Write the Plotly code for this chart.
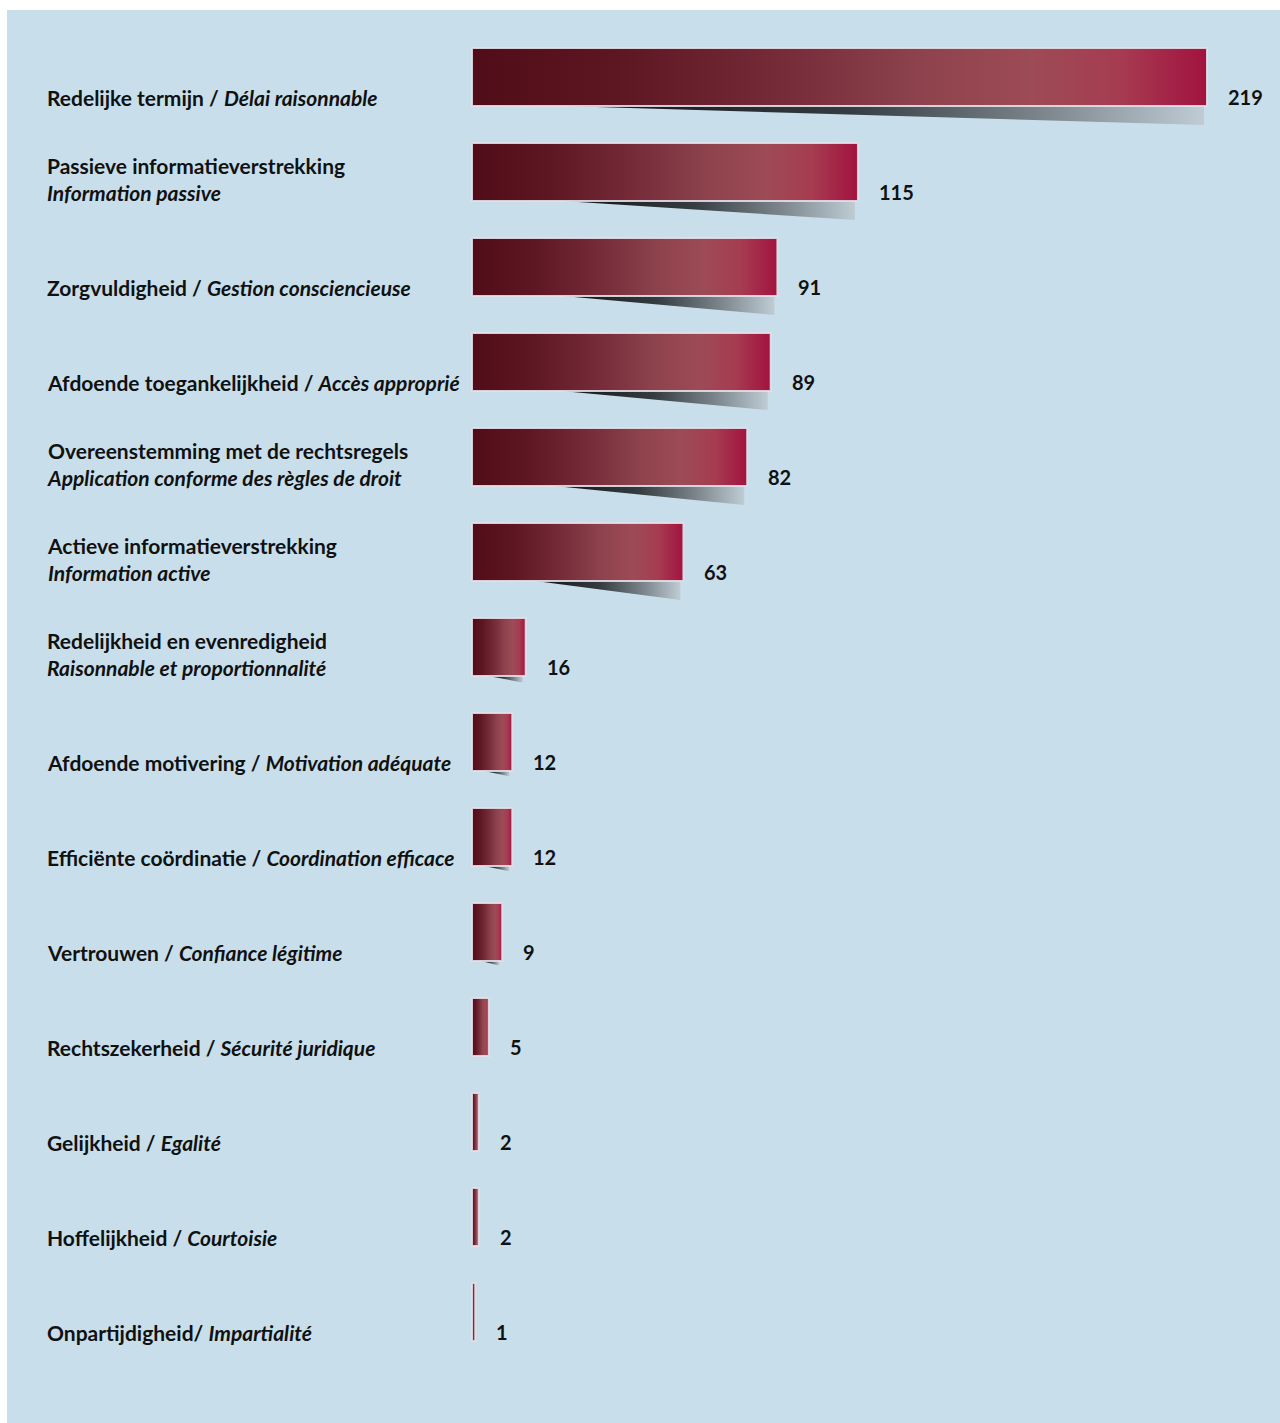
import plotly.graph_objects as go

# Ombudsman complaint categories (Dutch / French) and number of findings
labels_nl = [
    "Redelijke termijn",
    "Passieve informatieverstrekking",
    "Zorgvuldigheid",
    "Afdoende toegankelijkheid",
    "Overeenstemming met de rechtsregels",
    "Actieve informatieverstrekking",
    "Redelijkheid en evenredigheid",
    "Afdoende motivering",
    "Efficiënte coördinatie",
    "Vertrouwen",
    "Rechtszekerheid",
    "Gelijkheid",
    "Hoffelijkheid",
    "Onpartijdigheid",
]
labels_fr = [
    "Délai raisonnable",
    "Information passive",
    "Gestion consciencieuse",
    "Accès approprié",
    "Application conforme des règles de droit",
    "Information active",
    "Raisonnable et proportionnalité",
    "Motivation adéquate",
    "Coordination efficace",
    "Confiance légitime",
    "Sécurité juridique",
    "Egalité",
    "Courtoisie",
    "Impartialité",
]
counts = [219, 115, 91, 89, 82, 63, 16, 12, 12, 9, 5, 2, 2, 1]
# separator between the Dutch and French names
separators = [" / ", "<br>", " / ", " / ", "<br>", "<br>", "<br>",
              " / ", " / ", " / ", " / ", " / ", " / ", "/ "]

# ---- geometry (pixels) ----
W, H = 1280, 1423
ML, MT = 7, 10
PX_PER_UNIT = 735 / 219
ZERO_PX = 472
ROW_PX = 95
FIRST_ROW_PX = 77
LABEL_PX = 45

plot_w = W - ML
plot_h = H - MT
x_lo = -(ZERO_PX - ML) / PX_PER_UNIT
x_hi = (W - ZERO_PX) / PX_PER_UNIT
y_top = -(FIRST_ROW_PX - MT) / ROW_PX
y_bot = y_top + plot_h / ROW_PX
half = 29 / ROW_PX

PANEL = "#c8dfeb"
FONT = "Lato"
BAR_SCALE = [
    [0.0, "#500c18"],
    [0.2, "#5d1722"],
    [0.4, "#732936"],
    [0.6, "#8c424c"],
    [0.76, "#9d4b56"],
    [0.88, "#a63c51"],
    [1.0, "#a2133f"],
]
SHADOW_SCALE = [
    [0.0, "#111111"],
    [0.45, "#353d41"],
    [0.75, "#7c868c"],
    [1.0, "#bfccd4"],
]

fig = go.Figure()

for i, v in enumerate(counts):
    y0, y1 = i - half, i + half
    # tapered drop shadow under the bar
    if v >= 9:
        xs = min(0.3 * v, 27)
        xe = v - 3 / PX_PER_UNIT
        depth = min(19, 2 + 0.28 * v) / ROW_PX
        fig.add_trace(go.Scatter(
            x=[xs, xe, xe, xs], y=[y1, y1, y1 + depth, y1],
            mode="lines", fill="toself",
            fillgradient=dict(type="horizontal", colorscale=SHADOW_SCALE),
            line=dict(width=0), hoverinfo="skip", showlegend=False,
        ))
    # gradient bar
    fig.add_trace(go.Scatter(
        x=[0, v, v, 0, 0], y=[y0, y0, y1, y1, y0],
        mode="lines", fill="toself",
        fillgradient=dict(type="horizontal", colorscale=BAR_SCALE),
        line=dict(color="rgba(226,224,234,0.9)", width=2),
        hoverinfo="skip", showlegend=False,
    ))

    nlines = 2 if separators[i] == "<br>" else 1
    label = f"<b>{labels_nl[i]}{separators[i]}<i>{labels_fr[i]}</i></b>"
    fig.add_annotation(
        x=(LABEL_PX - ML) / plot_w, xref="paper", xanchor="left",
        y=i + (20 - 13.5 * (nlines - 1)) / ROW_PX, yref="y", yanchor="middle",
        text=label, showarrow=False, align="left",
        font=dict(family=FONT, size=21, color="#111111"),
    )
    fig.add_annotation(
        x=v, xref="x", xanchor="left", xshift=19,
        y=i + 20 / ROW_PX, yref="y", yanchor="middle",
        text=f"<b>{v}</b>", showarrow=False,
        font=dict(family=FONT, size=20, color="#111111"),
    )

fig.update_layout(
    width=W, height=H,
    margin=dict(l=ML, r=0, t=MT, b=0),
    paper_bgcolor="white",
    plot_bgcolor=PANEL,
    xaxis=dict(range=[x_lo, x_hi], visible=False, fixedrange=True),
    yaxis=dict(range=[y_bot, y_top], visible=False, fixedrange=True),
    showlegend=False,
)

fig.write_html("out.html")
